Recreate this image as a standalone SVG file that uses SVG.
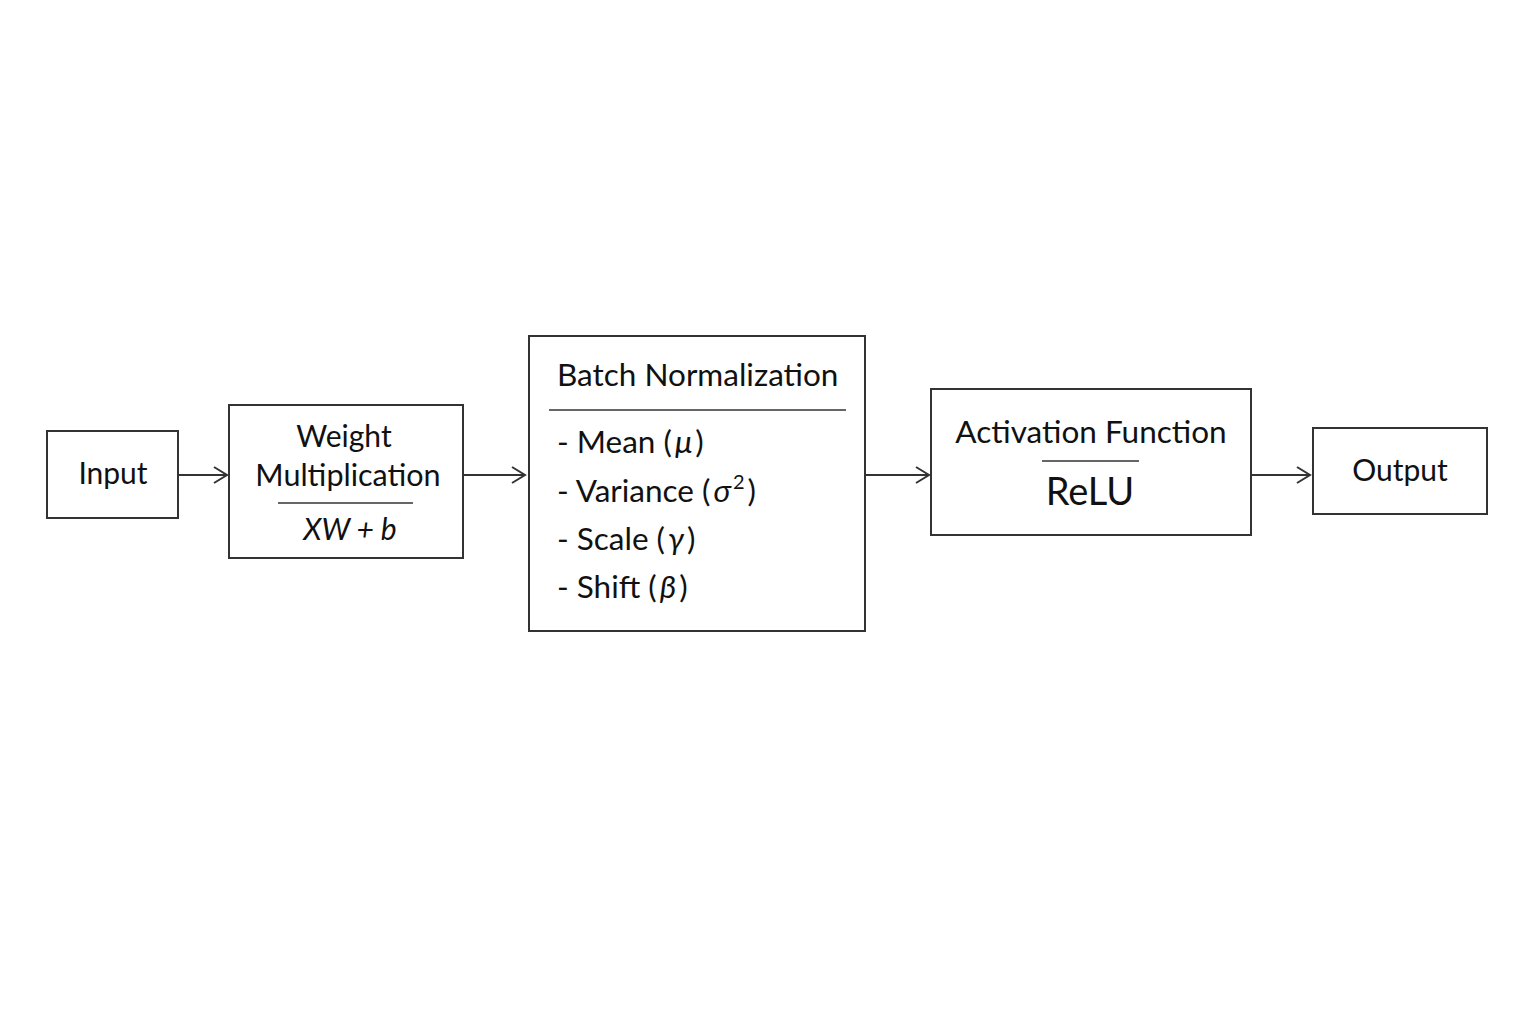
<svg xmlns="http://www.w3.org/2000/svg" width="1536" height="1024" viewBox="0 0 1536 1024">
<defs>
<style>
.box{fill:#fff;stroke:#333;stroke-width:2}
.t{font-family:Lato,"Open Sans","Liberation Sans",sans-serif;font-size:30px;fill:#111}
.b{font-size:31.5px}
.c{text-anchor:middle}
.it{font-style:italic}
.sep{stroke:#333;stroke-width:1.3}
.con{stroke:#333;stroke-width:2;fill:none}
</style>
<marker id="arr" markerWidth="20" markerHeight="20" refX="16" refY="10" orient="auto" markerUnits="userSpaceOnUse">
<path d="M3,2 L16,10 L3,18" fill="none" stroke="#333" stroke-width="2"/>
</marker>
</defs>
<rect width="1536" height="1024" fill="#fff"/>
<g id="connectors">
<line class="con" x1="178" y1="475" x2="227" y2="475" marker-end="url(#arr)"/>
<line class="con" x1="463" y1="475" x2="525" y2="475" marker-end="url(#arr)"/>
<line class="con" x1="865" y1="475" x2="929" y2="475" marker-end="url(#arr)"/>
<line class="con" x1="1251" y1="475" x2="1310" y2="475" marker-end="url(#arr)"/>
</g>
<g id="input">
<rect class="box" x="47" y="431" width="131" height="87"/>
<text class="t c" x="113" y="484">Input</text>
</g>
<g id="weight">
<rect class="box" x="229" y="405" width="234" height="153"/>
<text class="t c" x="344" y="447">Weight</text>
<text class="t c" x="348" y="486" style="font-size:30.5px">Multiplication</text>
<line class="sep" x1="278" y1="503" x2="413" y2="503"/>
<text class="t c it" x="350" y="540">XW + b</text>
</g>
<g id="batchnorm">
<rect class="box" x="529" y="336" width="336" height="295"/>
<text class="t b" x="557" y="386">Batch Normalization</text>
<line class="sep" x1="549" y1="410" x2="846" y2="410"/>
<text class="t b" x="557" y="453">- Mean (<tspan class="it" dx="3">μ</tspan><tspan dx="3">)</tspan></text>
<text class="t b" x="557" y="502">- Variance (<tspan class="it" dx="3">σ</tspan><tspan font-size="20" dy="-13" dx="2">2</tspan><tspan dy="13" dx="3">)</tspan></text>
<text class="t b" x="557" y="550">- Scale (<tspan class="it" dx="3">γ</tspan><tspan dx="3">)</tspan></text>
<text class="t b" x="557" y="598">- Shift (<tspan class="it" dx="3">β</tspan><tspan dx="3">)</tspan></text>
</g>
<g id="activation">
<rect class="box" x="931" y="389" width="320" height="146"/>
<text class="t c b" x="1091" y="443">Activation Function</text>
<line class="sep" x1="1042" y1="461" x2="1139" y2="461"/>
<text class="t c" x="1090" y="505" style="font-size:38px">ReLU</text>
</g>
<g id="output">
<rect class="box" x="1313" y="428" width="174" height="86"/>
<text class="t c" x="1400" y="481">Output</text>
</g>
</svg>
